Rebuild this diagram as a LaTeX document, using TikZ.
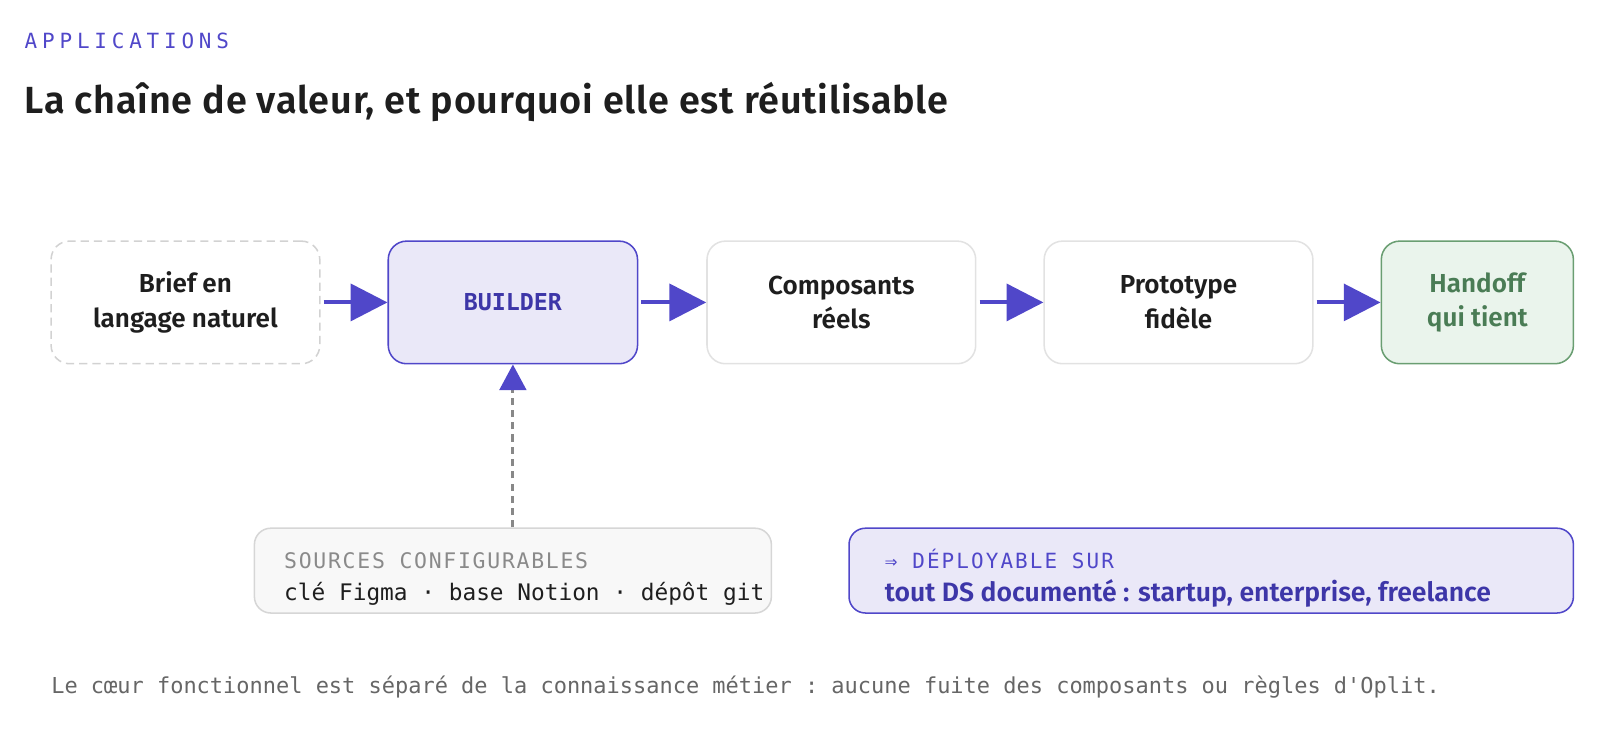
\documentclass[tikz,border=0pt]{standalone}
\usepackage{fontspec}
\usetikzlibrary{arrows.meta}
\setmainfont{Fira Sans}[BoldFont={Fira Sans SemiBold}]
\setmonofont{DejaVu Sans Mono}
\definecolor{accent}{HTML}{5047C9}
\definecolor{accentdark}{HTML}{3D36A8}
\definecolor{accentfill}{HTML}{EAE8F8}
\definecolor{boxline}{HTML}{E2E2E2}
\definecolor{dashline}{HTML}{D2D2D2}
\definecolor{greenfill}{HTML}{EAF4EC}
\definecolor{greenline}{HTML}{6A9E72}
\definecolor{greentext}{HTML}{4A7C55}
\definecolor{srcfill}{HTML}{F8F8F8}
\definecolor{srcline}{HTML}{D6D6D6}
\definecolor{srchead}{HTML}{8A8A8A}
\definecolor{inktext}{HTML}{1E1E1E}
\definecolor{foot}{HTML}{666666}
\definecolor{conn}{HTML}{888888}
\begin{document}
\begin{tikzpicture}[x=1pt,y=-1pt,
  stage/.style={draw=boxline, line width=1.5pt, rounded corners=18pt, fill=white,
    minimum height=120pt, inner sep=0pt, align=center, text=inktext,
    font=\fontsize{25.5}{34}\selectfont\bfseries},
  flow/.style={draw=accent, line width=4pt, shorten <=3pt,
    -{Triangle[length=36pt,width=36pt]}},
  panel/.style={line width=1.5pt, rounded corners=16pt, minimum height=83pt, inner sep=0pt},
  txt/.style={anchor=base west, inner sep=0pt},
  monotxt/.style={txt, font=\fontsize{22.3}{26}\selectfont\ttfamily}
]
\useasboundingbox (0,0) rectangle (1568,714.5);

\node[txt, text=accent, font=\fontsize{20.5}{24}\selectfont\ttfamily\addfontfeature{LetterSpace=23}] (kicker) at (24,47) {APPLICATIONS};
\node[txt, text=inktext, font=\fontsize{37}{40}\selectfont\bfseries\addfontfeature{LetterSpace=2}] (title) at (24,111) {La chaîne de valeur, et pourquoi elle est réutilisable};

\node[stage, draw=dashline, dashed, dash pattern=on 8pt off 5pt, minimum width=263pt] (brief) at (181.5,296) {Brief en\\langage naturel};
\node[stage, draw=accent, fill=accentfill, text=accentdark, minimum width=244pt,
  font=\fontsize{22.8}{26}\selectfont\ttfamily\bfseries] (builder) at (502,296) {BUILDER};
\node[stage, minimum width=263pt] (comp) at (823.5,296) {Composants\\réels};
\node[stage, minimum width=263pt] (proto) at (1153.5,296) {Prototype\\fidèle};
\node[stage, draw=greenline, fill=greenfill, text=greentext, minimum width=188pt] (handoff) at (1446,296) {Handoff\\qui tient};

\draw[flow] (brief) -- (builder);
\draw[flow] (builder) -- (comp);
\draw[flow] (comp) -- (proto);
\draw[flow] (proto) -- (handoff);

\node[panel, draw=srcline, fill=srcfill, minimum width=506pt] (sources) at (502,558.5) {};
\node[monotxt, text=srchead, font=\fontsize{21}{26}\selectfont\ttfamily\addfontfeature{LetterSpace=8}] (srch) at (278,556) {SOURCES CONFIGURABLES};
\node[monotxt, text=inktext] (srcl) at (278,588) {clé Figma · base Notion · dépôt git};

\draw[conn, line width=3pt, dash pattern=on 7pt off 5pt,
  -{Triangle[length=25pt,width=26pt,color=accent]}] (sources.north) -- (builder.south);

\node[panel, draw=accent, fill=accentfill, minimum width=709pt] (deploy) at (1185.5,558.5) {};
\node[monotxt, text=accent, font=\fontsize{20.5}{26}\selectfont\ttfamily\addfontfeature{LetterSpace=10}] (deph) at (866,556) {⇒ DÉPLOYABLE SUR};
\node[txt, text=accentdark, font=\fontsize{26}{30}\selectfont\bfseries] (depl) at (866,589) {tout DS documenté : startup, enterprise, freelance};

\node[monotxt, text=foot, font=\fontsize{21.5}{26}\selectfont\ttfamily] (footer) at (50,679) {Le cœur fonctionnel est séparé de la connaissance métier : aucune fuite des composants ou règles d'Oplit.};
\end{tikzpicture}
\end{document}
